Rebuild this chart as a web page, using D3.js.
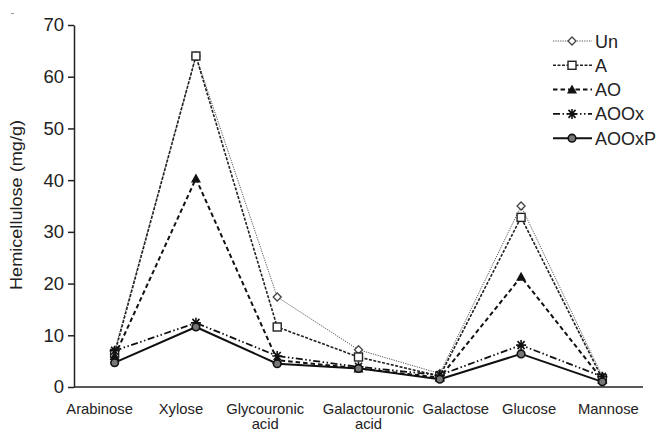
<!DOCTYPE html>
<html><head><meta charset="utf-8">
<script src="https://cdn.jsdelivr.net/npm/d3@7"></script>
<style>body{margin:0;background:#fff;} text{font-family:"Liberation Sans",Arial,sans-serif;fill:#222;}</style>
</head><body><svg id="c" width="658" height="431"></svg>
<script>
const categories = ["Arabinose","Xylose","Glycouronic\nacid","Galactouronic\nacid","Galactose","Glucose","Mannose"];
const yTicks = [0,10,20,30,40,50,60,70];
const seriesNames = ["Un","A","AO","AOOx","AOOxP"];
const Un    = [7.0, 64.0, 17.4, 7.2, 2.6, 35.0, 2.0];
const A     = [6.5, 64.0, 11.6, 5.8, 2.1, 32.8, 1.6];
const AO    = [6.0, 40.3, 5.2, 3.6, 1.8, 21.3, 1.4];
const AOOx  = [7.0, 12.4, 6.0, 3.9, 2.3, 8.1, 2.0];
const AOOxP = [4.7, 11.6, 4.5, 3.6, 1.5, 6.4, 1.0];
const values = [Un, A, AO, AOOx, AOOxP];

const svg = d3.select("#c");
const L = 74, R = 643, T = 25, B = 387;
const x = d3.scaleBand().domain(categories).range([L, R]).padding(0);
const y = d3.scaleLinear().domain([0,70]).range([B, T]);
const cx = c => x(c) + x.bandwidth()/2;
// horizontal shift of each category label relative to its point (layout only)
const labelShift = [-15,-15,-12,10,16,8,6];

const styles = [
  {dash:"1.2,1.2", w:1, color:"#555"},
  {dash:"3,1.5", w:1.6, color:"#222"},
  {dash:"4.5,3", w:2, color:"#111"},
  {dash:"7,2.5,1.5,2.5,1.5,2.5", w:1.8, color:"#111"},
  {dash:null, w:2, color:"#111"}
];

// axes
const yAxis = d3.axisLeft(y).tickValues(yTicks).tickSize(6).tickSizeOuter(0).tickPadding(4);
const gy = svg.append("g").attr("transform",`translate(${L},0)`).call(yAxis);
gy.select(".domain").attr("stroke","#222").attr("stroke-width",1.5);
gy.selectAll(".tick line").attr("stroke","#222").attr("stroke-width",1.5);
gy.selectAll(".tick text").style("font-size","18.5px").style("font-family","Liberation Sans, Arial, sans-serif").attr("fill","#222");

svg.append("line").attr("x1",L).attr("x2",R).attr("y1",B).attr("y2",B).attr("stroke","#222").attr("stroke-width",1.5);

const xl = svg.append("g");
categories.forEach((c,k)=>{
  const lines = c.split("\n");
  const px = cx(c) + labelShift[k];
  const t = xl.append("text").attr("x",px).attr("y",414).attr("text-anchor","middle").style("font-size","14.8px");
  lines.forEach((ln,i)=>t.append("tspan").attr("x",px).attr("dy",i===0?0:15).text(ln));
});

svg.append("text").attr("transform",`translate(22,205) rotate(-90)`).attr("text-anchor","middle")
  .style("font-size","16px").attr("textLength",170).attr("lengthAdjust","spacingAndGlyphs").text("Hemicellulose (mg/g)");

svg.append("line").attr("x1",11).attr("x2",14).attr("y1",13.5).attr("y2",13.5).attr("stroke","#999").attr("stroke-width",1);

function marker(g, i, px, py){
  if(i===0){
    g.append("path").attr("d",`M${px},${py-4}L${px+4},${py}L${px},${py+4}L${px-4},${py}Z`).attr("fill","#fff").attr("stroke","#444").attr("stroke-width",1.3);
  } else if(i===1){
    g.append("rect").attr("x",px-4).attr("y",py-4).attr("width",8).attr("height",8).attr("fill","#fff").attr("stroke","#222").attr("stroke-width",1.4);
  } else if(i===2){
    g.append("path").attr("d",`M${px},${py-5}L${px+5},${py+4}L${px-5},${py+4}Z`).attr("fill","#111");
  } else if(i===3){
    const r=5;
    g.append("path").attr("d",`M${px-r},${py}L${px+r},${py}M${px-r*0.7},${py-r*0.8}L${px+r*0.7},${py+r*0.8}M${px-r*0.7},${py+r*0.8}L${px+r*0.7},${py-r*0.8}M${px},${py-r}L${px},${py+r}`)
      .attr("stroke","#111").attr("stroke-width",1.6).attr("fill","none");
  } else {
    g.append("circle").attr("cx",px).attr("cy",py).attr("r",3.8).attr("fill","#777").attr("stroke","#111").attr("stroke-width",1.6);
  }
}

const line = d3.line().x((d,i)=>cx(categories[i])).y(d=>y(d));
values.forEach((vals,i)=>{
  const st = styles[i];
  svg.append("path").datum(vals).attr("d",line).attr("fill","none").attr("stroke",st.color)
    .attr("stroke-width",st.w).attr("stroke-dasharray",st.dash).attr("stroke-linejoin","round");
});
values.forEach((vals,i)=>{
  const g = svg.append("g");
  vals.forEach((v,j)=>marker(g,i,cx(categories[j]),y(v)));
});

// legend
const lg = svg.append("g");
seriesNames.forEach((n,i)=>{
  const yy = 41 + i*24.3;
  const st = styles[i];
  lg.append("line").attr("x1",553).attr("x2",592).attr("y1",yy).attr("y2",yy).attr("stroke",st.color)
    .attr("stroke-width",st.w).attr("stroke-dasharray",st.dash);
  marker(lg,i,572,yy);
  lg.append("text").attr("x",595).attr("y",yy+6.5).style("font-size","18px").text(n);
});
</script></body></html>
